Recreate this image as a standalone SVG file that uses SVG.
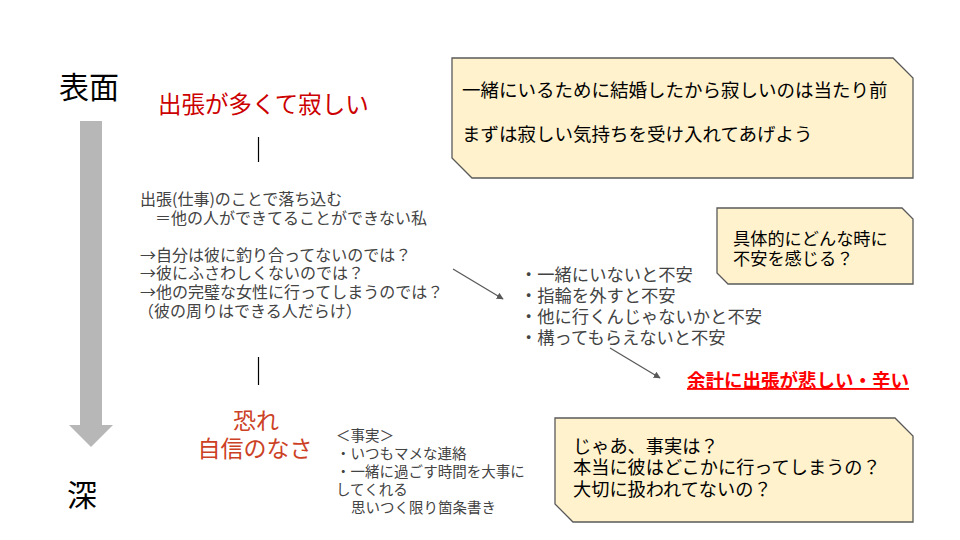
<svg xmlns="http://www.w3.org/2000/svg" width="960" height="540" viewBox="0 0 960 540">
<defs>
<style>
text{font-family:"Noto Sans CJK JP","Noto Sans",sans-serif;}
.big{font-size:30px;fill:#000;}
.body{fill:#434343;}
.call{fill:#fff2cc;stroke:#595959;stroke-width:1.3;}
.ct{fill:#000;}
.conn{stroke:#595959;stroke-width:1.3;fill:none;}
.tick{stroke:#000;stroke-width:1.2;}
</style>
<marker id="ah" viewBox="0 0 10 10" refX="9" refY="5" markerWidth="7" markerHeight="7" orient="auto" markerUnits="userSpaceOnUse">
<path d="M0,0 L10,5 L0,10 z" fill="#595959"/>
</marker>
</defs>
<rect width="960" height="540" fill="#fff"/>

<g id="depth-axis">
<text class="big" x="59" y="98">表面</text>
<path d="M80,121 H102 V425 H113 L91,447 L69,425 H80 Z" fill="#b7b7b7"/>
<text class="big" x="67" y="506">深</text>
</g>

<g id="surface">
<text x="158" y="113" font-size="23.5" fill="#cc0000">出張が多くて寂しい</text>
</g>

<g id="callout1">
<path class="call" d="M452,58 H893 L913,78 V178 H472 L452,158 Z"/>
<text class="ct" x="462" y="97" font-size="18.5">一緒にいるために結婚したから寂しいのは当たり前</text>
<text class="ct" x="462" y="141" font-size="18.5">まずは寂しい気持ちを受け入れてあげよう</text>
</g>

<g id="analysis">
<text class="body" font-size="16">
<tspan x="140" y="205">出張(仕事)のことで落ち込む</tspan>
<tspan x="155" y="223.6">＝他の人ができてることができない私</tspan>
<tspan x="140" y="260.8">→自分は彼に釣り合ってないのでは？</tspan>
<tspan x="140" y="279.4">→彼にふさわしくないのでは？</tspan>
<tspan x="140" y="298">→他の完璧な女性に行ってしまうのでは？</tspan>
<tspan x="138" y="316.6">（彼の周りはできる人だらけ）</tspan>
</text>
</g>

<g id="anxiety">
<text class="body" font-size="17.3">
<tspan x="520" y="281">・一緒にいないと不安</tspan>
<tspan x="520" y="302">・指輪を外すと不安</tspan>
<tspan x="520" y="323">・他に行くんじゃないかと不安</tspan>
<tspan x="520" y="344">・構ってもらえないと不安</tspan>
</text>
</g>

<g id="callout2">
<path class="call" d="M717,208 H902 L913,219 V284 H728 L717,273 Z"/>
<text class="ct" font-size="17.2"><tspan x="733" y="245">具体的にどんな時に</tspan><tspan x="733" y="265">不安を感じる？</tspan></text>
</g>

<g id="sad">
<text x="687" y="387" font-size="18.5" font-weight="bold" fill="#ff0000" text-decoration="underline">余計に出張が悲しい・辛い</text>
</g>

<g id="fear">
<text font-size="23" fill="#cc4125" text-anchor="middle"><tspan x="256" y="429">恐れ</tspan><tspan x="255" y="457">自信のなさ</tspan></text>
</g>

<g id="facts">
<text class="body" font-size="14.5">
<tspan x="336" y="441">＜事実＞</tspan>
<tspan x="336" y="459">・いつもマメな連絡</tspan>
<tspan x="336" y="477">・一緒に過ごす時間を大事に</tspan>
<tspan x="336" y="495">してくれる</tspan>
<tspan x="351" y="513">思いつく限り箇条書き</tspan>
</text>
</g>

<g id="callout3">
<path class="call" d="M555,418 H895 L913,436 V522 H573 L555,504 Z"/>
<text class="ct" font-size="18.2"><tspan x="573" y="453">じゃあ、事実は？</tspan><tspan x="573" y="474">本当に彼はどこかに行ってしまうの？</tspan><tspan x="573" y="496">大切に扱われてないの？</tspan></text>
</g>

<g id="connectors">
<line class="tick" x1="258.5" y1="137" x2="258.5" y2="162"/>
<line class="tick" x1="258.5" y1="357" x2="258.5" y2="385"/>
<line class="conn" x1="453" y1="269" x2="503" y2="299" marker-end="url(#ah)"/>
<line class="conn" x1="610" y1="348" x2="660" y2="378" marker-end="url(#ah)"/>
</g>
</svg>
